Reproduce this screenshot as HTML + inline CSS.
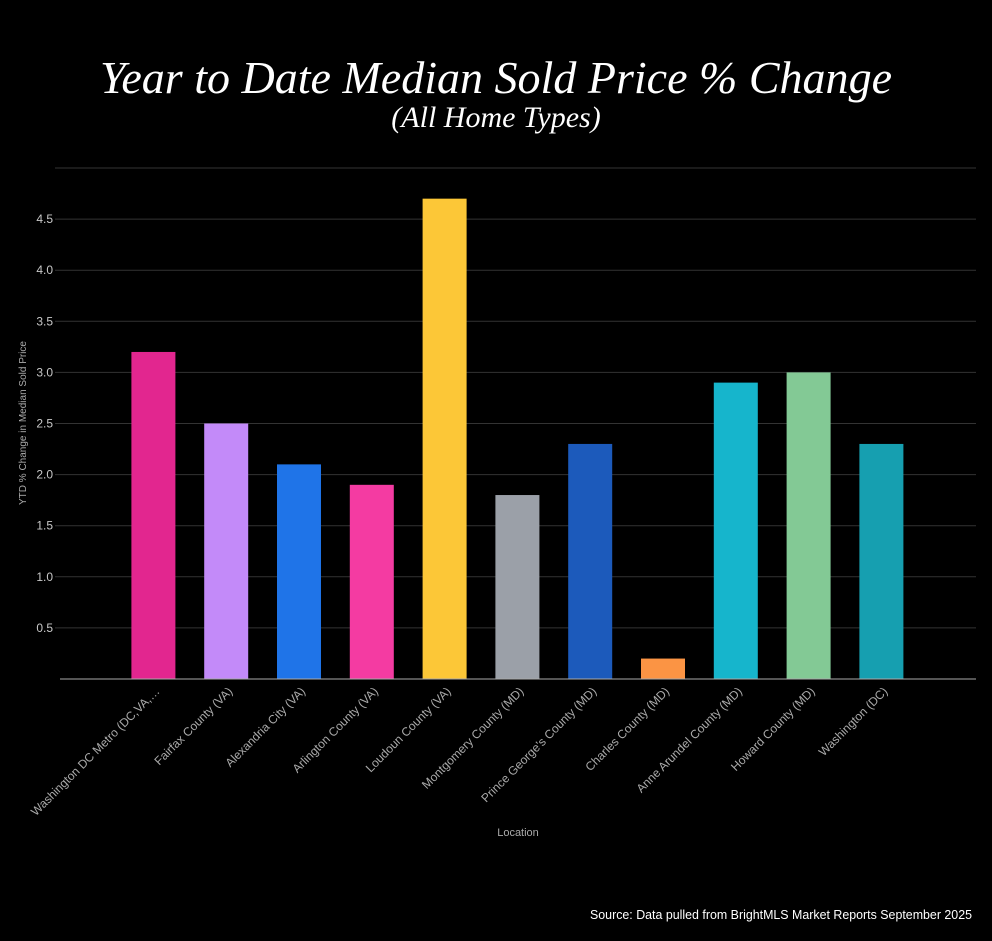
<!DOCTYPE html>
<html><head><meta charset="utf-8"><style>
html,body{margin:0;padding:0;background:#000;}
</style></head><body>
<svg id="chart" width="992" height="941" xmlns="http://www.w3.org/2000/svg" style="display:block;background:#000">
<text x="496" y="93" text-anchor="middle" font-family="Liberation Serif, serif" font-style="italic" font-size="46" fill="#fff" textLength="792" lengthAdjust="spacingAndGlyphs">Year to Date Median Sold Price % Change</text>
<text x="496" y="127" text-anchor="middle" font-family="Liberation Serif, serif" font-style="italic" font-size="30" fill="#fff">(All Home Types)</text>
<g id="grid"></g><g id="bars"></g><g id="xlabels"></g>
<line x1="60" y1="679" x2="976" y2="679" stroke="#aaa" stroke-width="1"/>
<text x="26" y="423" transform="rotate(-90 26 423)" text-anchor="middle" font-family="Liberation Sans, sans-serif" font-size="10" fill="#aaa">YTD % Change in Median Sold Price</text>
<text x="518" y="836" text-anchor="middle" font-family="Liberation Sans, sans-serif" font-size="11" fill="#aaa">Location</text>
<text x="972" y="919" text-anchor="end" font-family="Liberation Sans, sans-serif" font-size="12.5" fill="#fff" textLength="382" lengthAdjust="spacingAndGlyphs">Source: Data pulled from BrightMLS Market Reports September 2025</text>
</svg>
<script>
const categories=["Washington DC Metro (DC,VA,…","Fairfax County (VA)","Alexandria City (VA)","Arlington County (VA)","Loudoun County (VA)","Montgomery County (MD)","Prince George's County (MD)","Charles County (MD)","Anne Arundel County (MD)","Howard County (MD)","Washington (DC)"];
const values=[3.2,2.5,2.1,1.9,4.7,1.8,2.3,0.2,2.9,3.0,2.3];
const colors=["#e2268f","#c38af9","#1f74e8","#f43ba2","#fcc737","#9ba0a8","#1c5abb","#fb9444","#16b5cc","#83c995","#169fb0"];
const yTicks=[0.5,1.0,1.5,2.0,2.5,3.0,3.5,4.0,4.5,5.0];
const yTickLabels=["0.5","1.0","1.5","2.0","2.5","3.0","3.5","4.0","4.5",""];
const NS="http://www.w3.org/2000/svg";
const y0=679,pxPerUnit=102.2,x0=117,step=72.8,barW=44;
function yScale(v){return y0-v*pxPerUnit;}
function xScale(i){return x0+step*(i+0.5);}
const grid=document.getElementById('grid'),bars=document.getElementById('bars'),xl=document.getElementById('xlabels');
yTicks.forEach((t,i)=>{
 const l=document.createElementNS(NS,'line');
 l.setAttribute('x1',55);l.setAttribute('x2',976);l.setAttribute('y1',yScale(t));l.setAttribute('y2',yScale(t));
 l.setAttribute('stroke','#333');l.setAttribute('stroke-width','1');
 
 
 grid.appendChild(l);
 if(yTickLabels[i]){
 const tx=document.createElementNS(NS,'text');
 tx.setAttribute('x',53);tx.setAttribute('y',yScale(t)+4);tx.setAttribute('text-anchor','end');
 tx.setAttribute('font-family','Liberation Sans, sans-serif');tx.setAttribute('font-size','12');tx.setAttribute('fill','#c8c8c8');
 tx.textContent=yTickLabels[i];
 
 
 grid.appendChild(tx);}
});
categories.forEach((c,i)=>{
 const cx=xScale(i);
 const r=document.createElementNS(NS,'rect');
 r.setAttribute('x',cx-barW/2);r.setAttribute('y',yScale(values[i]));r.setAttribute('width',barW);r.setAttribute('height',y0-yScale(values[i]));
 r.setAttribute('fill',colors[i]);
 
 
 bars.appendChild(r);
 const t=document.createElementNS(NS,'text');
 const lx=cx+7,ly=692;
 t.setAttribute('x',lx);t.setAttribute('y',ly);t.setAttribute('text-anchor','end');
 t.setAttribute('transform','rotate(-45 '+lx+' '+ly+')');
 t.setAttribute('font-family','Liberation Sans, sans-serif');t.setAttribute('font-size','12');t.setAttribute('fill','#aaa');
 t.textContent=c;
 
 
 xl.appendChild(t);
});
</script>
</body></html>
